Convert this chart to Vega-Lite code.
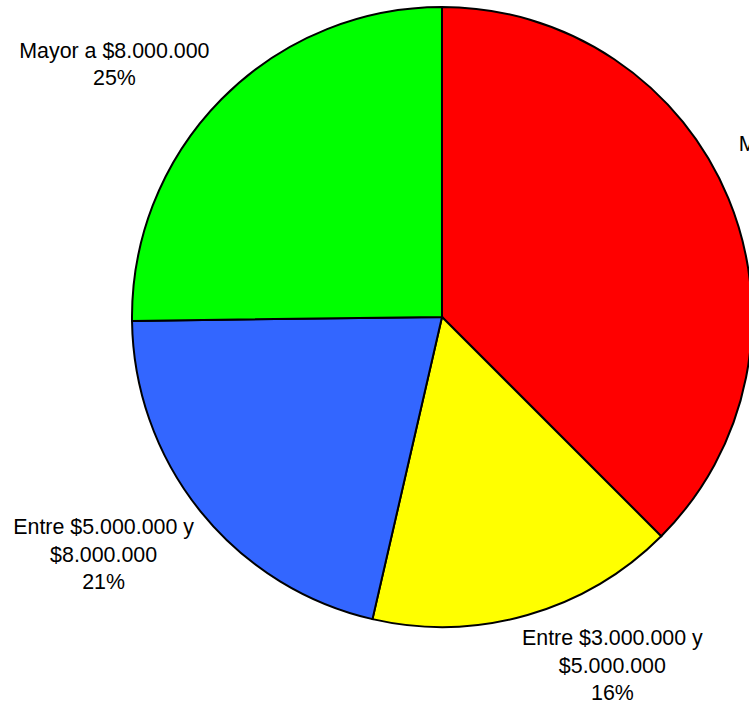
{
  "$schema": "https://vega.github.io/schema/vega-lite/v6.json",
  "autosize": {"type": "none"},
  "width": 884,
  "height": 620,
  "padding": {"left": 0, "top": 7, "right": -135, "bottom": 82},
  "background": "white",
  "config": {"view": {"stroke": null}},
  "data": {
    "values": [
      {"orden": 1, "cat": "Menor a $3.000.000", "valor": 37.5, "etiqueta": "Menor a $3.000.000\n38%"},
      {"orden": 2, "cat": "Entre $3.000.000 y $5.000.000", "valor": 16.1, "etiqueta": "Entre $3.000.000 y\n$5.000.000\n16%"},
      {"orden": 3, "cat": "Entre $5.000.000 y $8.000.000", "valor": 21.2, "etiqueta": "Entre $5.000.000 y\n$8.000.000\n21%"},
      {"orden": 4, "cat": "Mayor a $8.000.000", "valor": 25.2, "etiqueta": "Mayor a $8.000.000\n25%"}
    ]
  },
  "encoding": {
    "theta": {"field": "valor", "type": "quantitative", "stack": true},
    "order": {"field": "orden", "type": "quantitative"},
    "detail": {"field": "cat", "type": "nominal"}
  },
  "layer": [
    {
      "mark": {"type": "arc", "stroke": "black", "strokeWidth": 2},
      "encoding": {
        "color": {
          "field": "cat",
          "type": "nominal",
          "scale": {
            "domain": ["Menor a $3.000.000", "Entre $3.000.000 y $5.000.000", "Entre $5.000.000 y $8.000.000", "Mayor a $8.000.000"],
            "range": ["#FF0000", "#FFFF00", "#3366FF", "#00FF00"]
          },
          "legend": null
        }
      }
    },
    {
      "mark": {"type": "text", "font": "Liberation Sans", "fontSize": 21.4, "lineHeight": 27.5, "lineBreak": "\n", "align": "center", "baseline": "middle", "color": "black", "dx": 23, "dy": -19},
      "encoding": {
        "radius": {"value": 400},
        "text": {"condition": {"test": "datum.orden == 1", "field": "etiqueta"}, "value": ""}
      }
    },
    {
      "mark": {"type": "text", "font": "Liberation Sans", "fontSize": 21.4, "lineHeight": 27.5, "lineBreak": "\n", "align": "center", "baseline": "middle", "color": "black", "dx": 60, "dy": -62},
      "encoding": {
        "radius": {"value": 400},
        "text": {"condition": {"test": "datum.orden == 2", "field": "etiqueta"}, "value": ""}
      }
    },
    {
      "mark": {"type": "text", "font": "Liberation Sans", "fontSize": 21.4, "lineHeight": 27.5, "lineBreak": "\n", "align": "center", "baseline": "middle", "color": "black", "dx": -27, "dy": -40},
      "encoding": {
        "radius": {"value": 400},
        "text": {"condition": {"test": "datum.orden == 3", "field": "etiqueta"}, "value": ""}
      }
    },
    {
      "mark": {"type": "text", "font": "Liberation Sans", "fontSize": 21.4, "lineHeight": 27.5, "lineBreak": "\n", "align": "center", "baseline": "middle", "color": "black", "dx": -43, "dy": 16},
      "encoding": {
        "radius": {"value": 400},
        "text": {"condition": {"test": "datum.orden == 4", "field": "etiqueta"}, "value": ""}
      }
    }
  ]
}
